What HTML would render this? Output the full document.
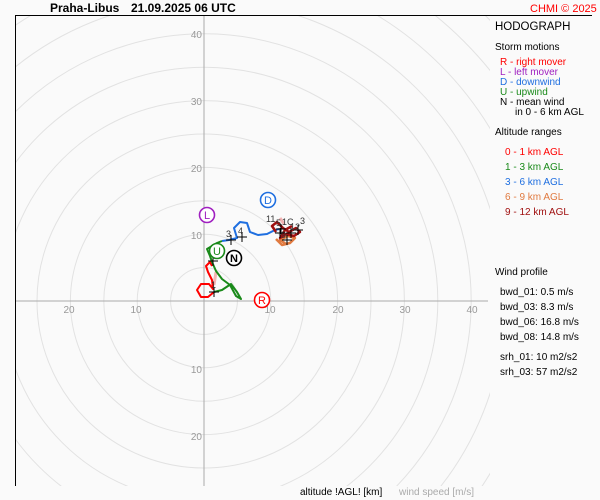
<!DOCTYPE html>
<html><head><style>
html,body{margin:0;padding:0;background:#fafafa;width:600px;height:500px;overflow:hidden;}
svg{display:block;font-family:"Liberation Sans",Arial,sans-serif;}
</style></head><body>
<svg width="600" height="500" viewBox="0 0 600 500" xmlns="http://www.w3.org/2000/svg">
<rect width="600" height="500" fill="#fafafa"/>
<defs><clipPath id="c"><rect x="15" y="15" width="475" height="471"/></clipPath></defs>
<g clip-path="url(#c)" fill="none" stroke="#e2e2e2" stroke-width="1">
<circle cx="204" cy="301" r="33.4"/><circle cx="204" cy="301" r="66.8"/><circle cx="204" cy="301" r="100.2"/>
<circle cx="204" cy="301" r="133.6"/><circle cx="204" cy="301" r="167"/><circle cx="204" cy="301" r="200.4"/>
<circle cx="204" cy="301" r="233.8"/><circle cx="204" cy="301" r="267.2"/><circle cx="204" cy="301" r="300.6"/>
<circle cx="204" cy="301" r="334"/><circle cx="204" cy="301" r="367.4"/><circle cx="204" cy="301" r="400.8"/>
</g>
<line x1="204" y1="15" x2="204" y2="486" stroke="#aaa"/>
<line x1="15" y1="301" x2="488" y2="301" stroke="#aaa"/>
<line x1="15" y1="15.5" x2="592" y2="15.5" stroke="#000"/>
<line x1="15.5" y1="15" x2="15.5" y2="486" stroke="#000"/>
<g font-size="10" fill="#999">
<text x="202" y="38" text-anchor="end">40</text>
<text x="202" y="105" text-anchor="end">30</text>
<text x="202" y="172" text-anchor="end">20</text>
<text x="202" y="239" text-anchor="end">10</text>
<text x="202" y="373" text-anchor="end">10</text>
<text x="202" y="440" text-anchor="end">20</text>
<text x="69" y="313" text-anchor="middle">20</text>
<text x="136" y="313" text-anchor="middle">10</text>
<text x="270" y="313" text-anchor="middle">10</text>
<text x="338" y="313" text-anchor="middle">20</text>
<text x="405" y="313" text-anchor="middle">30</text>
<text x="472" y="313" text-anchor="middle">40</text>
</g>
<g fill="none" stroke-width="2" stroke-linejoin="round">
<path d="M214,285 L216,272" stroke="#f4b4b4" stroke-width="3"/>
<path d="M214,292 L208,297 L201,297 L197,290 L201,284 L209,284 L213,289 L212,280 L208,272 L206,266 L210,262 L212,266" stroke="#f00"/>
<path d="M214,292 L222,290 L231,284 L237,292 L241,299 L236,296 L230,285 L222,279 L216,271 L212,262 L210,256 L207,249 L212,246 L217,243 L222,241" stroke="#1a8a1a"/>
<path d="M222,241 L229,240 L237,238 L234,228 L240,222 L247,223 L250,232 L258,235 L267,234 L275,230 L279,229" stroke="#1f6fe0"/>
<path d="M276,239 L282,245 L290,243 L295,238 L288,236 L280,240 L286,244" stroke="#e07a40" stroke-width="2.5"/>
<path d="M276,232 L272,226 L277,222 L283,228 L289,232 L296,228 L300,232 L294,236 L286,234 L280,238 L285,230 L292,226" stroke="#a01010" stroke-width="2.5"/>
<path d="M280,218 L284,224" stroke="#f4b4b4" stroke-width="3"/>
</g>
<g stroke="#000" stroke-width="1">
<path d="M209,292h10M214,287v10"/><path d="M208,261h10M213,256v10"/>
<path d="M226,240h10M231,235v10"/><path d="M237,237h10M242,232v10"/>
<path d="M275,233h10M280,228v10"/><path d="M286,233h10M291,228v10"/>
<path d="M293,230h10M298,225v10"/><path d="M282,240h10M287,235v10"/>
<path d="M276,229h10M281,224v10"/>
</g>
<g font-size="9" fill="#333">
<text x="211" y="288">1</text><text x="226" y="237">3</text><text x="238" y="234">4</text>
<text x="266" y="222">11</text><text x="276" y="226">5</text><text x="282" y="225">1C</text>
<text x="290" y="230">12</text><text x="300" y="224">3</text><text x="281" y="238">9</text>
</g>
<g font-size="11" text-anchor="middle" stroke-width="1.6">
<circle cx="268" cy="200" r="7.5" fill="#fff" stroke="#1f6fe0"/><text x="268" y="204" fill="#1f6fe0">D</text>
<circle cx="207" cy="215" r="7.5" fill="#fff" stroke="#a020c0"/><text x="207" y="219" fill="#a020c0">L</text>
<circle cx="217" cy="251" r="7.5" fill="#fff" stroke="#1a8a1a"/><text x="217" y="255" fill="#1a8a1a">U</text>
<circle cx="234" cy="258" r="7.5" fill="#fff" stroke="#000"/><text x="234" y="262" fill="#000" font-weight="bold">N</text>
<circle cx="262" cy="300" r="7.5" fill="#fff" stroke="#f00"/><text x="262" y="304" fill="#f00">R</text>
</g>
<text x="50" y="12" font-size="12" font-weight="bold" fill="#000">Praha-Libus</text>
<text x="131" y="12" font-size="12" font-weight="bold" fill="#000">21.09.2025 06 UTC</text>
<text x="530" y="12" font-size="11" fill="#f00">CHMI © 2025</text>
<g font-size="10">
<text x="495" y="30" font-size="11.5">HODOGRAPH</text>
<text x="495" y="50">Storm motions</text>
<text x="500" y="65" fill="#f00">R - right mover</text>
<text x="500" y="75" fill="#a020c0">L - left mover</text>
<text x="500" y="85" fill="#1f6fe0">D - downwind</text>
<text x="500" y="95" fill="#1a8a1a">U - upwind</text>
<text x="500" y="105">N - mean wind</text>
<text x="515" y="115">in 0 - 6 km AGL</text>
<text x="495" y="135">Altitude ranges</text>
<text x="505" y="155" fill="#f00">0 - 1 km AGL</text>
<text x="505" y="170" fill="#1a8a1a">1 - 3 km AGL</text>
<text x="505" y="185" fill="#1f6fe0">3 - 6 km AGL</text>
<text x="505" y="200" fill="#e07a40">6 - 9 km AGL</text>
<text x="505" y="215" fill="#a01010">9 - 12 km AGL</text>
<text x="495" y="275">Wind profile</text>
<text x="500" y="295">bwd_01: 0.5 m/s</text>
<text x="500" y="310">bwd_03: 8.3 m/s</text>
<text x="500" y="325">bwd_06: 16.8 m/s</text>
<text x="500" y="340">bwd_08: 14.8 m/s</text>
<text x="500" y="360">srh_01: 10 m2/s2</text>
<text x="500" y="375">srh_03: 57 m2/s2</text>
<text x="300" y="495">altitude !AGL! [km]</text>
<text x="399" y="495" fill="#aaa">wind speed [m/s]</text>
</g>
</svg>
</body></html>
